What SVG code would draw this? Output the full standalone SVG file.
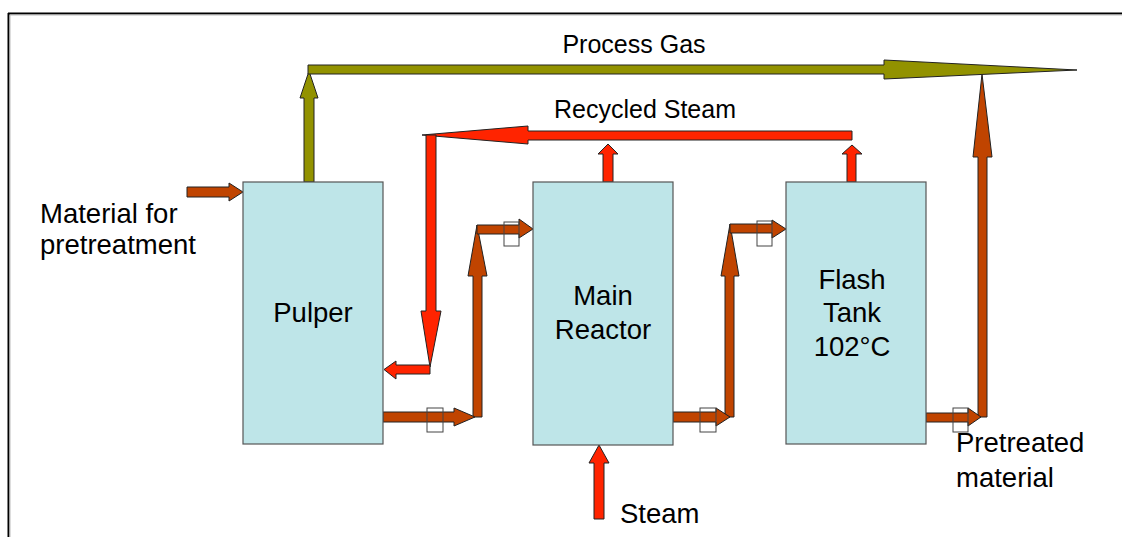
<svg xmlns="http://www.w3.org/2000/svg" width="1122" height="537" viewBox="0 0 1122 537">
<style>
.box{fill:#BEE5E8;stroke:#555;stroke-width:1.2}
.brown{fill:#C04400;stroke:#222;stroke-width:1}
.red{fill:#FF2400;stroke:#222;stroke-width:1}
.olive{fill:#929200;stroke:#222;stroke-width:1}
.valve{fill:none;stroke:#444;stroke-width:1}
text{font-family:"Liberation Sans",Arial,sans-serif;font-size:27.5px;fill:#000}
text.top{font-size:25px}
</style>
<rect width="1122" height="537" fill="#fff"/>
<g id="frame">
<line x1="8" y1="13.5" x2="1122" y2="13.5" stroke="#000" stroke-width="2"/>
<line x1="8" y1="15" x2="1122" y2="15" stroke="#bbb" stroke-width="1"/>
<line x1="8.5" y1="13" x2="8.5" y2="537" stroke="#000" stroke-width="2"/>
<line x1="10" y1="15" x2="10" y2="537" stroke="#bbb" stroke-width="1"/>
</g>
<g id="connectors">
<!-- process gas -->
<polygon class="olive" points="304,182 304,98 300,98 309,71 318,98 314,98 314,182"/>
<polygon class="olive" points="308,65 884,65 884,60 1077,70 884,79 884,74 308,74"/>
<!-- recycled steam -->
<polygon class="red" points="603,182 603,154 598,154 608,144 618,154 613,154 613,182"/>
<polygon class="red" points="847,182 847,154 842,154 852,145 862,154 856,154 856,182"/>
<polygon class="red" points="852,131 528,131 528,126 422,135 528,144 528,140 852,140"/>
<polygon class="red" points="426,135 436,135 436,311 441,311 430,367 421,311 426,311"/>
<polygon class="red" points="430,365 396,365 396,361 384,369.5 396,379 396,374 430,374"/>
<!-- material in -->
<polygon class="brown" points="187,187 229,187 229,183 243,192 229,201 229,197 187,197"/>
<!-- pulper to reactor -->
<polygon class="brown" points="473,417 473,276 468,276 477,225 487,276 482,276 482,417"/>
<polygon class="brown" points="383,412 454,412 454,408 475,417 454,426 454,422 383,422"/>
<polygon class="brown" points="477,225 519,225 519,219 533,229 519,238 519,234 477,234"/>
<!-- reactor to flash -->
<polygon class="brown" points="725,417 725,276 721,276 730,224 739,276 734,276 734,417"/>
<polygon class="brown" points="673,412 716,412 716,408 730,417 716,426 716,422 673,422"/>
<polygon class="brown" points="730,224 772,224 772,220 786,229 772,238 772,233 730,233"/>
<!-- flash out -->
<polygon class="brown" points="978,417 978,157 973,157 982,74 992,157 987,157 987,417"/>
<polygon class="brown" points="926,413 968,413 968,408 981,417 968,426 968,422 926,422"/>
<!-- steam in -->
<polygon class="red" points="594,519 594,463 589,463 599,445 609,463 604,463 604,519"/>
<!-- valves -->
<rect class="valve" x="427" y="408" width="16" height="24"/>
<rect class="valve" x="504" y="222" width="15" height="24"/>
<rect class="valve" x="700" y="408" width="16" height="24"/>
<rect class="valve" x="757" y="221" width="15" height="25"/>
<rect class="valve" x="953" y="408" width="15" height="24"/>
</g>
<g id="pulper">
<rect class="box" x="243" y="182" width="140" height="262"/>
<text x="313" y="322" text-anchor="middle">Pulper</text>
</g>
<g id="main-reactor">
<rect class="box" x="533" y="182" width="140" height="263"/>
<text x="603" y="305" text-anchor="middle">Main</text>
<text x="603" y="339" text-anchor="middle">Reactor</text>
</g>
<g id="flash-tank">
<rect class="box" x="786" y="182" width="140" height="262"/>
<text x="852" y="289" text-anchor="middle">Flash</text>
<text x="852" y="322" text-anchor="middle">Tank</text>
<text x="852" y="356" text-anchor="middle">102°C</text>
</g>
<g id="labels">
<text x="40" y="223">Material for</text>
<text x="40" y="254">pretreatment</text>
<text class="top" x="634" y="53" text-anchor="middle">Process Gas</text>
<text class="top" x="645" y="118" text-anchor="middle">Recycled Steam</text>
<text x="956" y="452">Pretreated</text>
<text x="956" y="487">material</text>
<text x="620" y="523">Steam</text>
</g>
</svg>
